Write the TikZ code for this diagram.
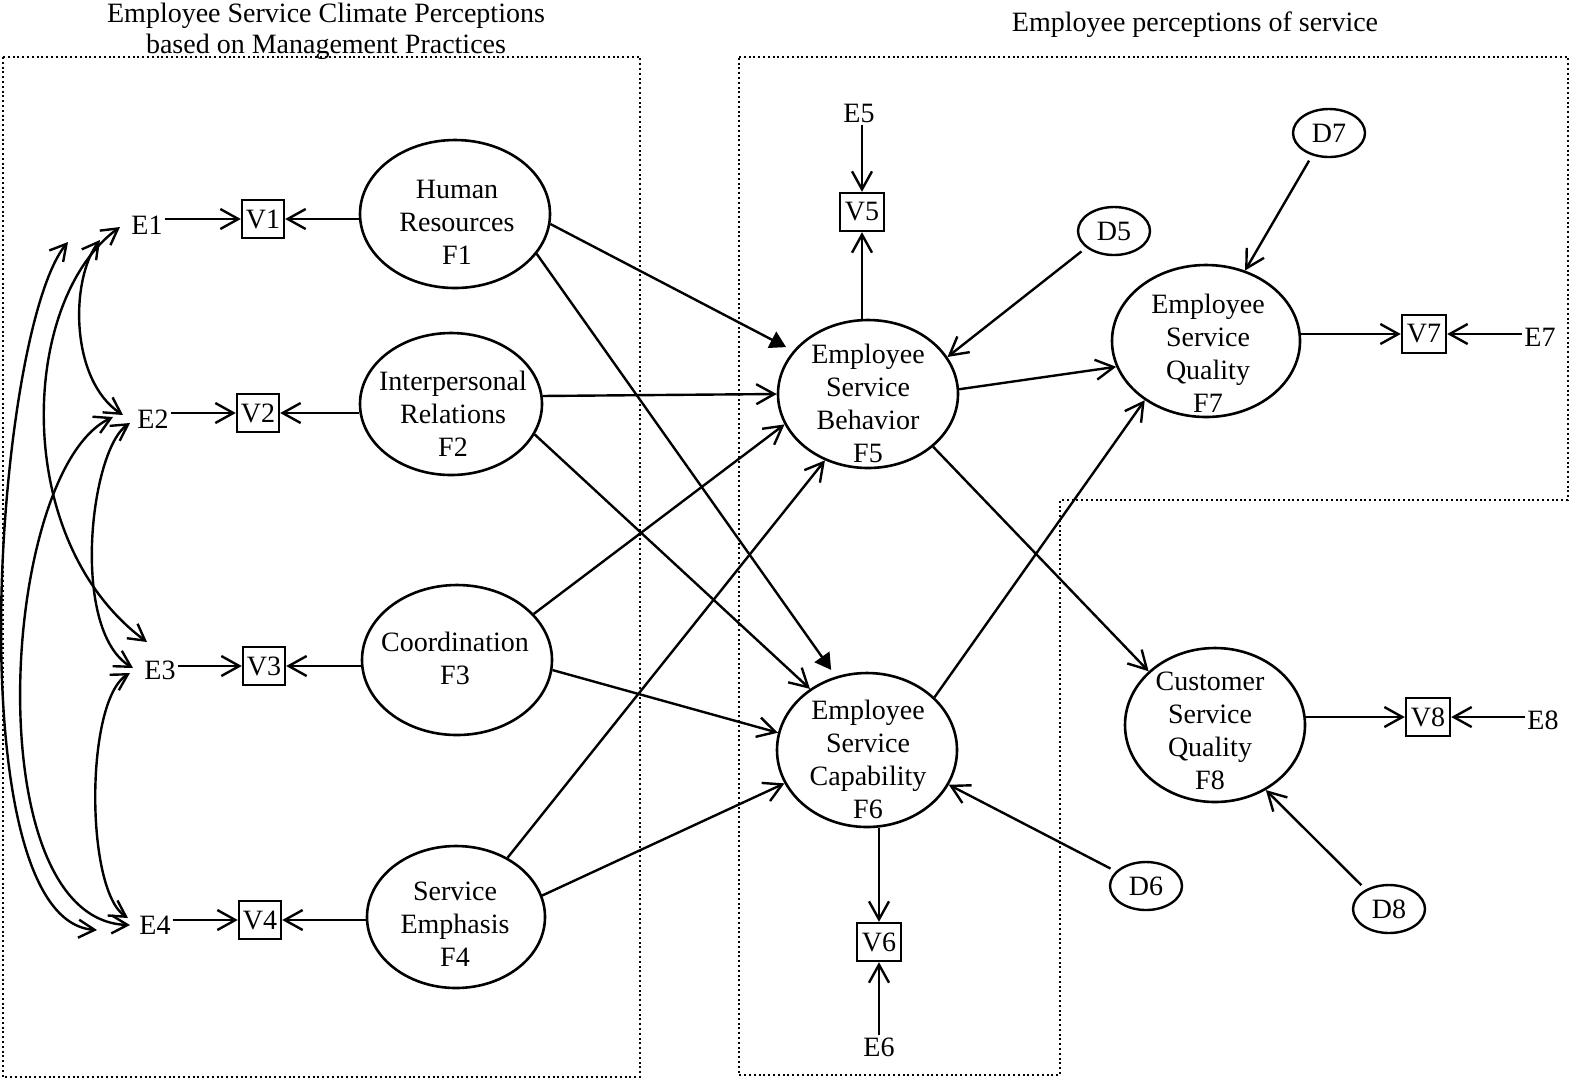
\documentclass[tikz,border=0pt]{standalone}
\usepackage{fontspec}
\setmainfont{Liberation Serif}
\usetikzlibrary{arrows.meta,shapes.geometric,calc}
\begin{document}
\begin{tikzpicture}[x=0.5pt,y=-0.5pt,
  every node/.style={font=\fontsize{14}{16.5}\selectfont},
  lat/.style={ellipse,draw,line width=1.3pt,inner sep=0pt},
  dist/.style={ellipse,draw,line width=1.2pt,inner sep=0pt,minimum width=36pt,minimum height=24pt},
  obs/.style={rectangle,draw,line width=1.2pt,inner sep=0pt,minimum width=21pt,minimum height=19pt},
  lbl/.style={inner sep=1pt},
  ftext/.style={align=center,inner sep=0pt},
  arr/.style={line width=1.2pt,-{Straight Barb[length=9pt,width=10pt]}},
  farr/.style={line width=1.2pt,-{Triangle[length=8pt,width=9pt]},shorten >=4pt},
  corr/.style={line width=1.2pt,{Straight Barb[length=8pt,width=9pt]}-{Straight Barb[length=8pt,width=9pt]}},
  frame/.style={line width=1.1pt,dash pattern=on 1pt off 1.4pt}
]
\useasboundingbox (0,0) rectangle (1573,1084);

% frames
\draw[frame] (3,57) rectangle (640,1077);
\draw[frame] (739,57) -- (1568,57) -- (1568,500) -- (1060,500) -- (1060,1075) -- (739,1075) -- cycle;

% titles
\node[align=center,font=\fontsize{14}{15.5}\selectfont] (T1) at (326,31) {Employee Service Climate Perceptions\\based on Management Practices};
\node (T2) at (1195,25) {Employee perceptions of service};

% latent ellipses
\node[lat,minimum width=95pt,minimum height=74pt] (F1) at (455,214) {};
\node[lat,minimum width=91pt,minimum height=71pt] (F2) at (451,404) {};
\node[lat,minimum width=95pt,minimum height=75pt] (F3) at (457,660) {};
\node[lat,minimum width=89pt,minimum height=71pt] (F4) at (456,917) {};
\node[lat,minimum width=90pt,minimum height=74pt] (F5) at (868,394) {};
\node[lat,minimum width=90pt,minimum height=77pt] (F6) at (867,750) {};
\node[lat,minimum width=94pt,minimum height=76pt] (F7) at (1206,341) {};
\node[lat,minimum width=90pt,minimum height=77pt] (F8) at (1215,725) {};

\node[ftext] (F1t) at (457,222) {Human\\Resources\\F1};
\node[ftext] (F2t) at (453,414) {Interpersonal\\Relations\\F2};
\node[ftext] (F3t) at (455,658) {Coordination\\F3};
\node[ftext] (F4t) at (455,924) {Service\\Emphasis\\F4};
\node[ftext] (F5t) at (868,403) {Employee\\Service\\Behavior\\F5};
\node[ftext] (F6t) at (868,759) {Employee\\Service\\Capability\\F6};
\node[ftext] (F7t) at (1208,353) {Employee\\Service\\Quality\\F7};
\node[ftext] (F8t) at (1210,731) {Customer\\Service\\Quality\\F8};

% disturbances
\node[dist] (D5) at (1114,231) {D5};
\node[dist] (D6) at (1146,886) {D6};
\node[dist] (D7) at (1329,133) {D7};
\node[dist] (D8) at (1389,909) {D8};

% observed
\node[obs] (V1) at (263,219) {V1};
\node[obs] (V2) at (258,413) {V2};
\node[obs] (V3) at (264,666) {V3};
\node[obs] (V4) at (260,920) {V4};
\node[obs,minimum width=22pt] (V5) at (862,212) {V5};
\node[obs,minimum width=22pt] (V6) at (879,942) {V6};
\node[obs,minimum width=22pt] (V7) at (1424,334) {V7};
\node[obs,minimum width=22pt] (V8) at (1428,717) {V8};

% errors
\node[lbl] (E1) at (147,225) {E1};
\node[lbl] (E2) at (153,419) {E2};
\node[lbl] (E3) at (160,670) {E3};
\node[lbl] (E4) at (155,925) {E4};
\node[lbl] (E5) at (859,113) {E5};
\node[lbl] (E6) at (879,1047) {E6};
\node[lbl] (E7) at (1540,337) {E7};
\node[lbl] (E8) at (1543,720) {E8};

% structural paths
\draw[farr] (F1.-6) -- (F5.150);
\draw[farr] (F1.-26) -- (F6.113);
\draw[arr] (F2.5) -- (F5.180);
\draw[arr] (F2.-20) -- (F6.133);
\draw[arr] (F3.31) -- (F5.200);
\draw[arr] (F3.-6) -- (F6.169);
\draw[arr] (F4.49) -- (F5.237);
\draw[arr] (F4.14) -- (F6.202);
\draw[arr] (F5.3) -- (F7.196);
\draw[arr] (F5.-39) -- (F8.141);
\draw[arr] (F6.38) -- (F7.224);

% disturbance paths
\draw[arr,shorten <=3pt] (D5.211) -- (F5.25);
\draw[arr,shorten <=3pt] (D6.154) -- (F6.-23);
\draw[arr,shorten <=3pt] (D7.233) -- (F7.61);
\draw[arr,shorten <=3pt] (D8.140) -- (F8.-52);

% loadings
\draw[arr] (V1.east -| F1.west) -- (V1.east);
\draw[arr] (V2.east -| F2.west) -- (V2.east);
\draw[arr] (V3.east -| F3.west) -- (V3.east);
\draw[arr] (V4.east -| F4.west) -- (V4.east);
\draw[arr] (F5.north -| V5.south) -- (V5.south);
\draw[arr] (F6.south -| V6.north) -- (V6.north);
\draw[arr] (V7.west -| F7.east) -- (V7.west);
\draw[arr] (V8.west -| F8.east) -- (V8.west);

% errors to observed
\draw[arr] (E1.east |- V1.west) -- (V1.west);
\draw[arr] (E2.east |- V2.west) -- (V2.west);
\draw[arr] (E3.east |- V3.west) -- (V3.west);
\draw[arr] (E4.east |- V4.west) -- (V4.west);
\draw[arr] (E5.south -| V5.north) -- (V5.north);
\draw[arr] (E6.north -| V6.south) -- (V6.south);
\draw[arr] (E7.west |- V7.east) -- (V7.east);
\draw[arr] (E8.west |- V8.east) -- (V8.east);

% correlations among errors
\draw[corr] ([shift={(-47,15)}]E1.center) .. controls (70,280) and (70,380) .. ([shift={(-30,-4)}]E2.center);
\draw[corr] ([shift={(-27,2)}]E1.center) .. controls (20,300) and (10,540) .. ([shift={(-13,-28)}]E3.center);
\draw[corr] ([shift={(-79,17)}]E1.center) .. controls (-5,330) and (-45,920) .. ([shift={(-58,5)}]E4.center);
\draw[corr] ([shift={(-23,4)}]E2.center) .. controls (90,450) and (70,630) .. ([shift={(-27,-2)}]E3.center);
\draw[corr] ([shift={(-40,-2)}]E2.center) .. controls (0,470) and (-25,920) .. ([shift={(-25,0)}]E4.center);
\draw[corr] ([shift={(-30,3)}]E3.center) .. controls (85,700) and (85,890) .. ([shift={(-27,-7)}]E4.center);
\end{tikzpicture}
\end{document}
